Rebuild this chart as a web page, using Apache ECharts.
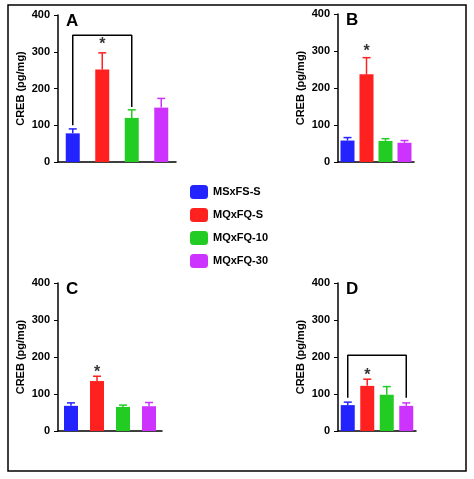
<!DOCTYPE html><html><head><meta charset="utf-8">
<script src="https://cdn.jsdelivr.net/npm/echarts@6/dist/echarts.min.js"></script>
<style>html,body{margin:0;padding:0;background:#fff}#c{width:474px;height:479px}</style></head><body><div id="c"></div>
<script>
const groups=['MSxFS-S','MQxFQ-S','MQxFQ-10','MQxFQ-30'];
const colors=['#2323ff','#ff2020','#22cc22','#cc33ff'];
const meansA=[78,252,120,148], errA=[12,45,22,25];
const meansB=[58,237,57,52], errB=[8,45,6,6];
const meansC=[68,135,65,67], errC=[8,13,5,10];
const meansD=[70,122,98,68], errD=[8,18,22,8];
const panels=[
 {L:'A',m:meansA,e:errA,grid:{left:58,top:15,width:118,height:147},br:[0,2,345,[100,150]],star:[1,320]},
 {L:'B',m:meansB,e:errB,grid:{left:338,top:14,width:76,height:148},star:[1,298]},
 {L:'C',m:meansC,e:errC,grid:{left:58,top:283,width:104,height:148},star:[1,158]},
 {L:'D',m:meansD,e:errD,grid:{left:338,top:283,width:78,height:148},br:[0,3,205,[90,90]],star:[1,150]}
];
const grid=[],xAxis=[],yAxis=[],series=[],graphic=[];
panels.forEach((p,i)=>{
 grid.push(p.grid);
 xAxis.push({gridIndex:i,type:'category',data:groups,axisTick:{show:false},axisLabel:{show:false},axisLine:{lineStyle:{color:'#000',width:1.5}}});
 yAxis.push({gridIndex:i,min:0,max:400,interval:100,name:'CREB (pg/mg)',nameLocation:'middle',nameGap:32,
  nameTextStyle:{fontWeight:'bold',fontSize:11,color:'#000',fontFamily:'Arial'},
  axisLine:{show:true,lineStyle:{color:'#000',width:1.5}},axisTick:{show:true,length:4},splitLine:{show:false},
  axisLabel:{fontWeight:'bold',fontSize:11,color:'#000',fontFamily:'Arial'}});
 groups.forEach((g,k)=>{
  series.push({type:'bar',name:g,xAxisIndex:i,yAxisIndex:i,barGap:'-100%',barWidth:14,
   itemStyle:{color:colors[k]},data:p.m.map((v,j)=>j===k?v:null)});
 });
 series.push({type:'custom',xAxisIndex:i,yAxisIndex:i,data:p.m.map((v,j)=>[j,v,v+p.e[j]]),z:1,
  renderItem:(params,api)=>{const j=api.value(0);const a=api.coord([j,api.value(1)]),b=api.coord([j,api.value(2)]);
   const st={stroke:colors[j],lineWidth:1.5};
   return {type:'group',children:[{type:'line',shape:{x1:a[0],y1:a[1],x2:b[0],y2:b[1]},style:st},
    {type:'line',shape:{x1:b[0]-4,y1:b[1],x2:b[0]+4,y2:b[1]},style:st}]};}});
 if(p.br){series.push({type:'line',xAxisIndex:i,yAxisIndex:i,symbol:'none',lineStyle:{color:'#000',width:1.5},
  data:[[p.br[0],p.br[3][0]],[p.br[0],p.br[2]],[p.br[1],p.br[2]],[p.br[1],p.br[3][1]]]});}
 series.push({type:'scatter',xAxisIndex:i,yAxisIndex:i,symbolSize:0,data:[[p.star[0],p.star[1]]],
  label:{show:true,formatter:'*',position:'inside',fontSize:16,fontWeight:'bold',color:'#000'}});
 graphic.push({type:'text',left:p.grid.left+8,top:p.grid.top-2,style:{text:p.L,font:'bold 17px Arial',fill:'#000'}});
});
graphic.push({type:'rect',shape:{x:8,y:5,width:458,height:466},style:{fill:'none',stroke:'#000',lineWidth:1.5}});
const chart=echarts.init(document.getElementById('c'));
chart.setOption({animation:false,grid,xAxis,yAxis,series,graphic,
 legend:{data:groups,orient:'vertical',left:185,top:180,itemWidth:18,itemHeight:14,itemGap:9,
  textStyle:{fontWeight:'bold',fontSize:11,color:'#000',fontFamily:'Arial'}}});
</script></body></html>
